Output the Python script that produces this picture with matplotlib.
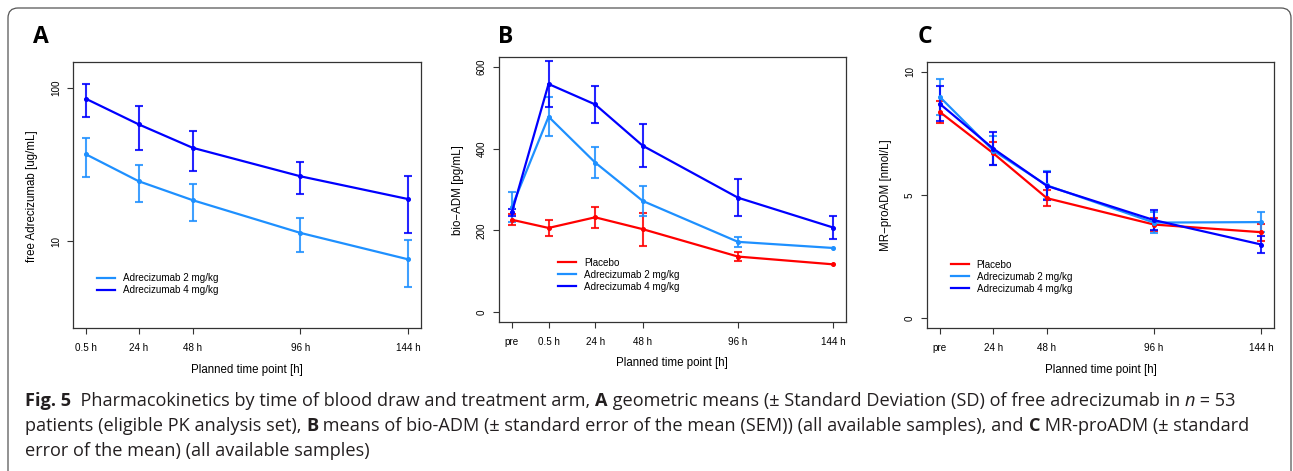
import numpy as np
import matplotlib
matplotlib.use("Agg")
import matplotlib.pyplot as plt
from matplotlib.patches import FancyBboxPatch
from matplotlib.transforms import IdentityTransform
from matplotlib.ticker import NullLocator

# ---- A: free adrecizumab, geometric mean with -SD / +SD ----
pk_hours = [0.5, 24, 48, 96, 144]
pk_labels = ["0.5 h", "24 h", "48 h", "96 h", "144 h"]
adz2_mean = [36.9, 24.6, 18.5, 11.3, 7.59]
adz2_lo = [26.1, 17.9, 13.6, 8.44, 5.02]
adz2_hi = [47.3, 31.5, 23.7, 14.2, 10.1]
adz4_mean = [85.1, 57.9, 40.7, 26.5, 18.8]
adz4_lo = [64.6, 39.4, 28.7, 20.4, 11.2]
adz4_hi = [105.7, 75.9, 52.4, 32.7, 26.6]

# ---- B: bio-ADM, mean +/- SEM (pre-dose plotted at -18 h) ----
bio_hours = [-18, 0.5, 24, 48, 96, 144]
bio_labels = ["pre", "0.5 h", "24 h", "48 h", "96 h", "144 h"]
bio_plac_mean = [226, 206, 232, 203, 136, 117]
bio_plac_sem = [14, 20, 25, 40, 12, np.nan]
bio_adz2_mean = [257, 478, 366, 272, 172, 157]
bio_adz2_sem = [36, 47, 38, 36, 13, np.nan]
bio_adz4_mean = [244, 558, 508, 407, 280, 207]
bio_adz4_sem = [8, 56, 46, 52, 46, 28]

# ---- C: MR-proADM, mean +/- SEM ----
mr_hours = [0, 24, 48, 96, 144]
mr_labels = ["pre", "24 h", "48 h", "96 h", "144 h"]
mr_plac_mean = [8.37, 6.69, 4.87, 3.80, 3.49]
mr_plac_sem = [0.45, 0.46, 0.33, 0.25, 0.34]
mr_adz2_mean = [8.98, 6.80, 5.39, 3.88, 3.90]
mr_adz2_sem = [0.73, 0.60, 0.57, 0.44, 0.42]
mr_adz4_mean = [8.70, 6.88, 5.37, 3.98, 2.99]
mr_adz4_sem = [0.71, 0.68, 0.57, 0.42, 0.36]

arm_names = ["Placebo", "Adrecizumab 2 mg/kg", "Adrecizumab 4 mg/kg"]
arm_colors = ["#ff0000", "#1e90ff", "#0000ff"]

W, H = 1293, 471
plt.rcParams["font.family"] = ["Liberation Sans", "DejaVu Sans"]
fig = plt.figure(figsize=(W / 100, H / 100), dpi=100)


def px_axes(left, top, right, bottom):
    return fig.add_axes([left / W, 1 - bottom / H, (right - left) / W, (bottom - top) / H])


def draw_arm(ax, x, mean, lo, hi, color, label):
    x = np.asarray(x, float)
    mean = np.asarray(mean, float)
    lo = np.asarray(lo, float)
    hi = np.asarray(hi, float)
    ax.plot(x, mean, color=color, lw=1.6, marker="o", ms=2.6, label=label, zorder=3)
    ok = np.isfinite(lo) & np.isfinite(hi)
    ax.errorbar(x[ok], mean[ok], yerr=[mean[ok] - lo[ok], hi[ok] - mean[ok]],
                fmt="none", ecolor=color, elinewidth=1.5, capsize=2.6,
                capthick=1.5, alpha=0.85, zorder=2)


def draw_sem(ax, x, mean, sem, color, label):
    mean = np.asarray(mean, float)
    sem = np.asarray(sem, float)
    draw_arm(ax, x, mean, mean - sem, mean + sem, color, label)


def style_axes(ax, xticks, xlabels):
    for s in ax.spines.values():
        s.set_color("#333333")
        s.set_linewidth(0.9)
    ax.set_xticks(xticks)
    ax.set_xticklabels(xlabels)
    ax.tick_params(direction="out", length=4.3, width=0.8, color="#333333",
                   labelsize=7.1, pad=6.5)
    ax.tick_params(axis="y", labelrotation=90, pad=4.5)
    plt.setp(ax.get_yticklabels(), va="center")
    ax.yaxis.set_minor_locator(NullLocator())
    ax.xaxis.set_minor_locator(NullLocator())


def add_legend(ax, names, colors, x, y):
    handles = [plt.Line2D([], [], color=c, lw=1.6) for c in colors]
    ax.legend(handles, names, loc="upper left", bbox_to_anchor=(x, y),
              frameon=False, fontsize=7.1, handlelength=1.85, handletextpad=0.8,
              labelspacing=0.2, borderpad=0, borderaxespad=0)


# panel A
axA = px_axes(73, 62, 421, 328)
axA.set_yscale("log")
draw_arm(axA, pk_hours, adz2_mean, adz2_lo, adz2_hi, arm_colors[1], arm_names[1])
draw_arm(axA, pk_hours, adz4_mean, adz4_lo, adz4_hi, arm_colors[2], arm_names[2])
axA.set_xlim(-5.24, 149.74)
axA.set_ylim(2.7, 148)
axA.set_yticks([10, 100])
axA.set_yticklabels(["10", "100"])
style_axes(axA, pk_hours, pk_labels)
add_legend(axA, arm_names[1:], arm_colors[1:], 0.068, 0.205)

# panel B
axB = px_axes(499, 57, 846, 322)
draw_sem(axB, bio_hours, bio_plac_mean, bio_plac_sem, arm_colors[0], arm_names[0])
draw_sem(axB, bio_hours, bio_adz2_mean, bio_adz2_sem, arm_colors[1], arm_names[1])
draw_sem(axB, bio_hours, bio_adz4_mean, bio_adz4_sem, arm_colors[2], arm_names[2])
axB.set_xlim(-24.48, 150.48)
axB.set_ylim(-24, 624)
axB.set_yticks([0, 200, 400, 600])
style_axes(axB, bio_hours, bio_labels)
add_legend(axB, arm_names, arm_colors, 0.169, 0.243)

# panel C
axC = px_axes(927, 62, 1274, 328)
draw_sem(axC, mr_hours, mr_plac_mean, mr_plac_sem, arm_colors[0], arm_names[0])
draw_sem(axC, mr_hours, mr_adz2_mean, mr_adz2_sem, arm_colors[1], arm_names[1])
draw_sem(axC, mr_hours, mr_adz4_mean, mr_adz4_sem, arm_colors[2], arm_names[2])
axC.set_xlim(-5.76, 149.76)
axC.set_ylim(-0.4, 10.4)
axC.set_yticks([0, 5, 10])
style_axes(axC, mr_hours, mr_labels)
add_legend(axC, arm_names, arm_colors, 0.068, 0.256)

# axis titles and panel letters, placed in pixel positions
lab_kw = dict(fontsize=8.3, ha="center", va="center")
fig.text(32 / W, 1 - 196 / H, "free Adrecizumab [ug/mL]", rotation=90, **lab_kw)
fig.text(458 / W, 1 - 190 / H, "bio\u2212ADM [pg/mL]", rotation=90, **lab_kw)
fig.text(886 / W, 1 - 195 / H, "MR\u2212proADM [nmol/L]", rotation=90, **lab_kw)
fig.text(247 / W, 1 - 370 / H, "Planned time point [h]", **lab_kw)
fig.text(672 / W, 1 - 363 / H, "Planned time point [h]", **lab_kw)
fig.text(1101 / W, 1 - 370 / H, "Planned time point [h]", **lab_kw)

for letter, xp in [("A", 41), ("B", 506), ("C", 925)]:
    fig.text(xp / W, 1 - 37 / H, letter, fontsize=16.5, fontweight="bold",
             family=["Open Sans", "DejaVu Sans"], ha="center", va="center")

# rounded frame around the figure
frame = FancyBboxPatch((8, -30), 1283, H - 8 + 30,
                       boxstyle="round,pad=0,rounding_size=10",
                       transform=IdentityTransform(), fill=False,
                       edgecolor="#555555", lw=0.9)
fig.patches.append(frame)

# caption, built piece by piece so bold / italic runs share one baseline
cap_ax = fig.add_axes([0, 0, 1, 1])
cap_ax.axis("off")
cap_ax.set_xlim(0, W)
cap_ax.set_ylim(H, 0)

caption_lines = [
    [("Fig. 5", "bold", "normal"),
     ("  Pharmacokinetics by time of blood draw and treatment arm, ", "normal", "normal"),
     ("A", "bold", "normal"),
     (" geometric means (\u00b1 Standard Deviation (SD) of free adrecizumab in ", "normal", "normal"),
     ("n", "normal", "italic"),
     (" = 53", "normal", "normal")],
    [("patients (eligible PK analysis set), ", "normal", "normal"),
     ("B", "bold", "normal"),
     (" means of bio-ADM (\u00b1 standard error of the mean (SEM)) (all available samples), and ", "normal", "normal"),
     ("C", "bold", "normal"),
     (" MR-proADM (\u00b1 standard", "normal", "normal")],
    [("error of the mean) (all available samples)", "normal", "normal")],
]
cap_baselines = [406, 431, 456]
cap_kw = dict(fontsize=13.1, color="#231f20", family=["Open Sans", "DejaVu Sans"])

for pieces, yb in zip(caption_lines, cap_baselines):
    s, wt, st = pieces[0]
    t = cap_ax.text(25, yb, s, fontweight=wt, fontstyle=st, va="baseline", **cap_kw)
    for s, wt, st in pieces[1:]:
        t = cap_ax.annotate(s, xy=(1, 0), xycoords=t, va="bottom",
                            fontweight=wt, fontstyle=st, **cap_kw)

fig.savefig("out.png", dpi=100)
